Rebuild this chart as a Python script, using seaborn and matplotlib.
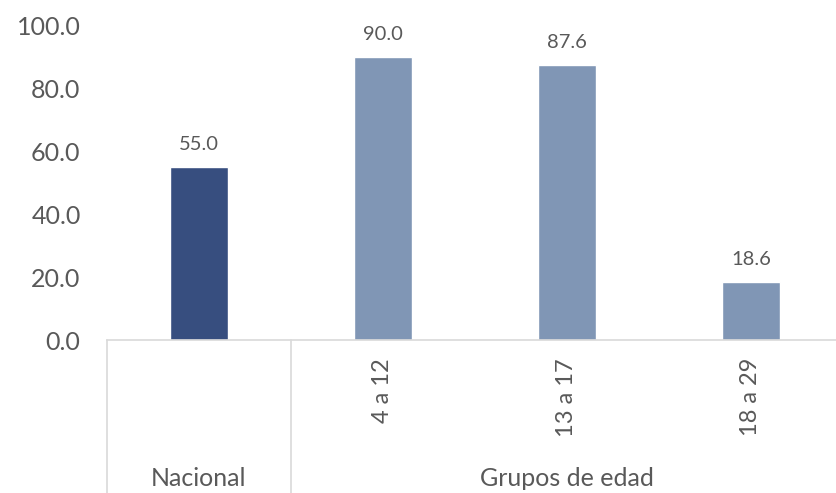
"""Porcentaje por grupo de edad: barras con eje de categorias agrupado."""
import pandas as pd
import seaborn as sns
import matplotlib.pyplot as plt

# Data
categories = ["Nacional", "4 a 12", "13 a 17", "18 a 29"]
values = [55.0, 90.0, 87.6, 18.6]
tick_labels = ["", "4 a 12", "13 a 17", "18 a 29"]
group_names = ["Nacional", "Grupos de edad"]
group_spans = [(0, 0), (1, 3)]
colors = ["#374e7f", "#8096b5", "#8096b5", "#8096b5"]

TEXT = "#595959"
GRID = "#d9d9d9"

sns.set_theme(style="white")
plt.rcParams["font.family"] = ["Lato", "DejaVu Sans"]

df = pd.DataFrame({"cat": categories, "val": values})

fig = plt.figure(figsize=(8.37, 4.93), dpi=100)
ax = fig.add_axes([107 / 837, 0.3103, 736 / 837, 0.637])

sns.barplot(data=df, x="cat", y="val", hue="cat", order=categories,
            palette=colors, width=0.32, legend=False, ax=ax, saturation=1)

ax.set_xlim(-0.5, 3.5)
ax.set_ylim(0, 100)
ax.set_yticks([0, 20, 40, 60, 80, 100])
ax.set_yticklabels([f"{v:.1f}" for v in [0, 20, 40, 60, 80, 100]],
                   fontsize=18, color=TEXT)
ax.tick_params(axis="y", length=0, pad=19)
ax.tick_params(axis="x", length=0, pad=13)
ax.set_xticks(range(len(categories)))
ax.set_xticklabels(tick_labels, rotation=90, fontsize=17, color=TEXT,
                   va="top", ha="center")
ax.set_xlabel("")
ax.set_ylabel("")

for side in ["top", "right", "left"]:
    ax.spines[side].set_visible(False)
ax.spines["bottom"].set_color(GRID)
ax.spines["bottom"].set_linewidth(1.2)

for container in ax.containers:
    ax.bar_label(container, fmt="%.1f", padding=10, fontsize=14.5, color=TEXT)

# group separators and group labels below the axis
y_bottom = -0.3103 / 0.637
trans = ax.get_xaxis_transform()
bounds = [-0.5, 0.5, 3.5]
for b in bounds:
    ax.plot([b, b], [0, y_bottom], transform=trans, color=GRID,
            lw=1.2, clip_on=False)
for name, (a, b) in zip(group_names, group_spans):
    ax.text((a + b) / 2, -0.44, name, transform=trans, ha="center",
            va="center", fontsize=18, color=TEXT)

fig.savefig("out.png", dpi=100)
